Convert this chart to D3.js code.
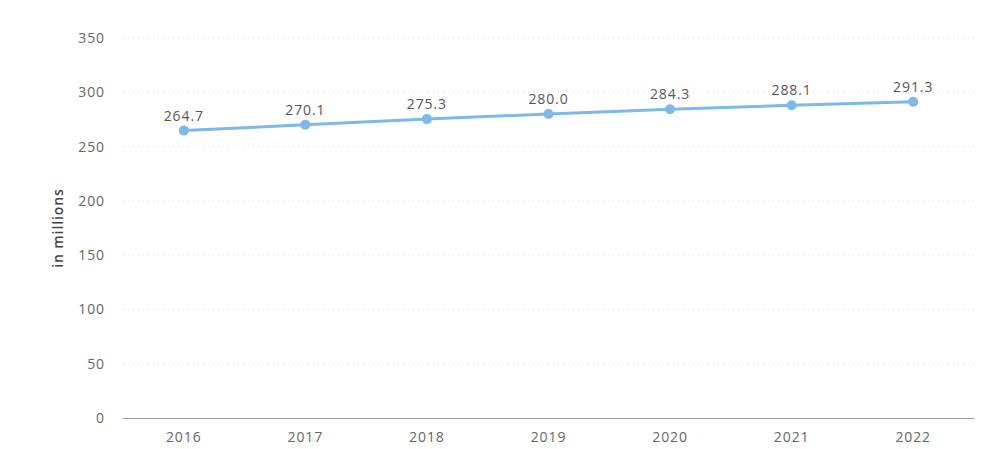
<!DOCTYPE html>
<html><head><meta charset="utf-8">
<script src="https://cdn.jsdelivr.net/npm/d3@7/dist/d3.min.js"></script>
<style>body{margin:0;background:#fff;} text{font-family:"Open Sans","DejaVu Sans",sans-serif;letter-spacing:0.9px;}</style>
</head><body><svg id="c" width="992" height="449"></svg>
<script>
const years = ["2016","2017","2018","2019","2020","2021","2022"];
const values = [264.7, 270.1, 275.3, 280.0, 284.3, 288.1, 291.3];
const yTicks = [0,50,100,150,200,250,300,350];
const yLabel = "in millions";

const svg = d3.select("#c");
const x = d3.scaleBand().domain(years).range([123, 974]);
const y = d3.scaleLinear().domain([0,350]).range([418, 38]);

svg.append("g").selectAll("line").data(yTicks.filter(d=>d>0)).join("line")
  .attr("x1",123).attr("x2",974).attr("y1",d=>y(d)).attr("y2",d=>y(d))
  .attr("stroke","#d8d8d8").attr("stroke-dasharray","1,4").attr("stroke-width",1);

svg.append("line").attr("x1",123).attr("x2",974).attr("y1",y(0)+0.5).attr("y2",y(0)+0.5)
  .attr("stroke","#999").attr("stroke-width",1);

svg.append("g").selectAll("text").data(yTicks).join("text")
  .attr("x",105).attr("y",d=>y(d)+5).attr("text-anchor","end")
  .attr("font-size",14).attr("fill","#666").text(d=>d);

svg.append("g").selectAll("text").data(years).join("text")
  .attr("x",d=>x(d)+x.bandwidth()/2).attr("y",442).attr("text-anchor","middle")
  .attr("font-size",14).attr("fill","#666").text(d=>d);

svg.append("text").attr("transform","translate(63,228) rotate(-90)")
  .attr("text-anchor","middle").attr("font-size",14).attr("font-weight",600).attr("fill","#444").text(yLabel);

const data = years.map((d,i)=>({year:d,v:values[i]}));
const line = d3.line().x(d=>x(d.year)+x.bandwidth()/2).y(d=>y(d.v));
svg.append("path").datum(data).attr("d",line).attr("fill","none")
  .attr("stroke","#7cb9e8").attr("stroke-width",3);
svg.append("g").selectAll("circle").data(data).join("circle")
  .attr("cx",d=>x(d.year)+x.bandwidth()/2).attr("cy",d=>y(d.v)).attr("r",5)
  .attr("fill","#7cb9e8");
svg.append("g").selectAll("text").data(data).join("text")
  .attr("x",d=>x(d.year)+x.bandwidth()/2).attr("y",d=>y(d.v)-10).attr("text-anchor","middle")
  .attr("font-size",14).attr("fill","#555").text(d=>d.v.toFixed(1));
</script></body></html>
